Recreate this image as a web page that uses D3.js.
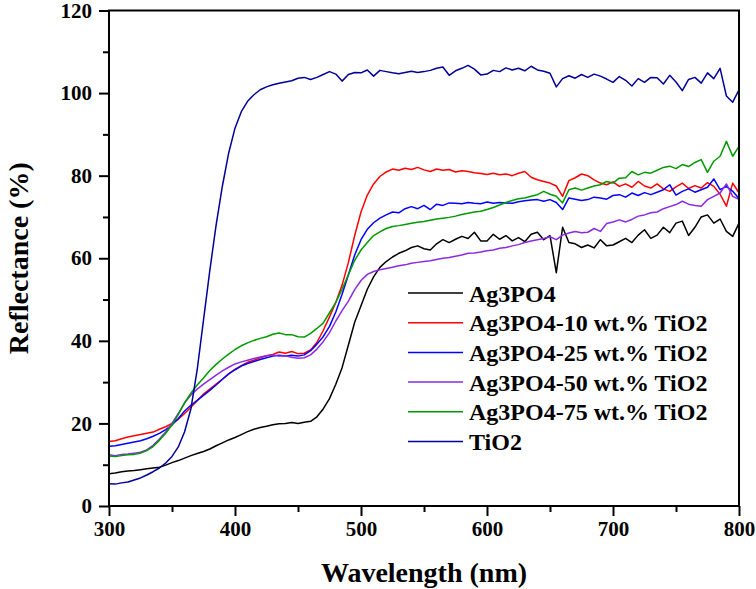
<!DOCTYPE html>
<html>
<head>
<meta charset="utf-8">
<script src="https://cdn.jsdelivr.net/npm/d3@7"></script>
<style>
  body { margin: 0; background: #fff; }
  svg text { font-family: "Liberation Serif", "Times New Roman", serif; font-weight: bold; }
</style>
</head>
<body>
<div id="chart"></div>
<script>
// wavelength grid, 5 nm steps
var wavelengths = d3.range(300, 801, 5);

var ag3po4 = [7.8, 8.0, 8.3, 8.5, 8.6, 8.8, 9.0, 9.2, 9.4, 9.9, 10.5, 11.0, 11.6, 12.2, 12.7, 13.2, 13.8, 14.6, 15.3, 16.0,
  16.6, 17.3, 18.0, 18.6, 19.0, 19.3, 19.7, 19.9, 20.0, 20.2, 20.0, 20.3, 20.5, 21.6, 23.5, 26.0, 29.5, 33.5, 39.0, 44.5,
  48.5, 52.5, 55.5, 57.8, 59.2, 60.3, 61.2, 61.8, 62.6, 63.0, 62.3, 62.0, 63.5, 64.5, 63.8, 64.6, 65.3, 64.8, 66.3, 64.2,
  64.2, 65.8, 64.6, 65.5, 64.2, 65.0, 64.0, 65.8, 66.3, 64.5, 65.5, 56.5, 67.5, 63.8, 63.5, 62.6, 63.2, 62.5, 64.5, 63.0,
  63.2, 64.0, 64.8, 63.8, 65.6, 66.9, 64.8, 65.6, 67.5, 66.2, 68.5, 69.0, 65.5, 67.5, 70.0, 70.5, 68.5, 69.5, 66.5, 65.3, 68.5];

var tio2_10 = [15.6, 15.8, 16.3, 16.7, 17.0, 17.3, 17.6, 17.9, 18.6, 19.2, 20.0, 21.0, 22.4, 23.9, 25.5, 27.1, 28.3, 29.5, 30.7, 32.0,
  33.1, 34.0, 34.8, 35.3, 35.9, 36.4, 36.7, 37.3, 37.0, 37.4, 36.9, 37.0, 37.8, 39.6, 42.5, 45.8, 49.3, 53.5, 59.0, 65.5,
  71.2, 75.3, 78.0, 79.8, 80.9, 81.6, 81.3, 81.8, 81.5, 82.0, 81.4, 81.0, 81.6, 81.3, 81.5, 80.9, 81.2, 81.0, 80.7, 80.5,
  80.3, 80.6, 80.2, 80.4, 80.0, 80.6, 81.0, 79.6, 79.0, 78.6, 78.2, 77.5, 75.0, 78.8, 79.5, 80.4, 80.0, 79.0, 78.2, 77.8,
  78.5, 77.4, 78.0, 77.2, 78.6, 77.5, 77.0, 78.0, 76.8, 76.2, 77.3, 78.2, 76.9, 77.6, 77.0, 78.3, 77.4, 75.5, 72.6, 78.2, 75.8];

var tio2_25 = [14.5, 14.6, 14.9, 15.2, 15.5, 15.8, 16.3, 16.9, 17.6, 18.5, 19.6, 21.2, 23.0, 24.4, 25.6, 26.8, 28.0, 29.3, 30.7, 32.0,
  33.0, 33.9, 34.5, 35.0, 35.5, 35.9, 36.3, 36.5, 36.3, 36.5, 36.3, 36.6, 37.6, 39.2, 41.0, 43.5, 47.0, 51.3, 56.0, 60.8,
  64.5, 67.0, 68.6, 69.7, 70.5, 71.2, 71.0, 72.0, 72.5, 72.0, 72.8, 71.8, 73.1, 72.8, 73.4, 73.3, 73.2, 73.5, 73.3, 73.2,
  73.6, 73.3, 73.5, 73.4, 73.3, 73.7, 73.9, 74.1, 74.2, 73.8, 74.2, 73.5, 71.8, 74.6, 74.3, 74.0, 74.2, 74.8, 74.6, 74.3,
  75.2, 75.4, 74.8, 75.8, 75.2, 75.9, 75.4, 76.0, 76.6, 77.8, 75.3, 76.2, 76.8, 76.0, 76.6, 77.2, 79.2, 76.6, 77.4, 76.2, 74.5];

var tio2_50 = [12.4, 12.2, 12.5, 12.6, 12.8, 13.0, 13.6, 14.7, 16.2, 17.9, 20.0, 22.4, 25.0, 26.9, 28.3, 29.5, 30.6, 31.7, 32.7, 33.6,
  34.4, 34.9, 35.3, 35.7, 36.1, 36.4, 36.6, 36.3, 36.4, 36.0, 35.8, 35.9, 36.6, 38.0, 39.8, 42.0, 44.8, 47.3, 49.6, 52.4,
  54.6, 56.1, 56.8, 57.2, 57.5, 57.8, 58.2, 58.4, 58.8, 59.0, 59.2, 59.4, 59.7, 60.0, 60.2, 60.5, 60.8, 61.2, 61.3, 61.5,
  61.8, 62.0, 62.4, 62.6, 63.0, 63.3, 63.8, 64.2, 64.5, 64.8, 65.2, 64.5, 65.6, 66.1, 66.5, 66.2, 66.3, 67.2, 66.5, 68.4,
  68.8, 69.3, 68.8, 69.4, 70.2, 70.5, 71.0, 71.2, 72.0, 72.5, 73.0, 73.8, 73.1, 72.8, 72.6, 74.2, 75.0, 75.8, 78.0, 75.0, 74.3];

var tio2_75 = [12.1, 12.0, 12.2, 12.4, 12.5, 12.8, 13.4, 14.4, 15.9, 17.6, 19.6, 22.2, 25.0, 27.3, 29.3, 31.0, 32.8, 34.3, 35.6, 36.8,
  37.9, 38.8, 39.5, 40.1, 40.6, 41.0, 41.6, 41.9, 41.5, 41.5, 41.0, 40.9, 41.8, 43.0, 44.3, 46.8, 49.3, 52.5, 56.0, 59.5,
  62.0, 63.8, 65.5, 66.4, 67.2, 67.7, 67.9, 68.2, 68.5, 68.7, 68.9, 69.2, 69.5, 69.7, 69.9, 70.2, 70.6, 70.9, 71.2, 71.4,
  71.8, 72.3, 72.9, 73.5, 74.0, 74.4, 74.6, 75.0, 75.4, 76.2, 75.5, 75.0, 73.4, 76.6, 77.0, 76.5, 77.0, 77.5, 77.8, 78.6,
  78.2, 79.4, 79.5, 81.0, 80.2, 80.8, 80.6, 81.3, 82.0, 82.3, 81.7, 82.7, 82.2, 83.2, 83.9, 80.8, 83.5, 84.7, 88.3, 84.7, 87.1];

var tio2 = [5.4, 5.3, 5.6, 5.8, 6.3, 6.8, 7.5, 8.3, 9.2, 10.4, 12.0, 14.3, 18.0, 23.5, 33.0, 45.0, 57.0, 68.0, 77.5, 85.5,
  91.5, 95.5, 98.0, 99.6, 100.8, 101.5, 102.0, 102.4, 102.7, 103.0, 103.6, 103.8, 103.3, 103.8, 104.5, 105.2, 104.6, 102.9, 104.5, 105.0,
  104.9, 105.6, 104.1, 105.5, 105.2, 104.9, 104.7, 105.0, 105.3, 105.0, 105.2, 105.5, 106.0, 106.3, 104.3, 105.4, 106.0, 106.7, 105.8, 104.4,
  104.6, 105.5, 105.2, 106.1, 105.6, 106.0, 105.4, 106.5, 105.6, 105.3, 104.8, 101.5, 103.5, 104.2, 103.6, 104.5, 103.8, 104.6, 104.1, 103.4,
  102.6, 104.0, 103.1, 101.7, 103.5, 102.6, 103.8, 103.7, 102.2, 104.3, 102.7, 100.6, 103.3, 103.8, 102.4, 104.9, 103.5, 106.0, 99.3, 97.8, 100.8];

var seriesNames = ["Ag3PO4", "Ag3PO4-10 wt.% TiO2", "Ag3PO4-25 wt.% TiO2", "Ag3PO4-50 wt.% TiO2", "Ag3PO4-75 wt.% TiO2", "TiO2"];
var seriesValues = [ag3po4, tio2_10, tio2_25, tio2_50, tio2_75, tio2];
var seriesColors = ["#000000", "#ff0000", "#0000ff", "#8a2be2", "#009a00", "#000099"];

var xTicks = [300, 400, 500, 600, 700, 800];
var yTicks = [0, 20, 40, 60, 80, 100, 120];

var svgWidth = 756;
var svgHeight = 589;
var margin = { top: 10.5, right: 17, bottom: 83, left: 109 };
var width = svgWidth - margin.left - margin.right;
var height = svgHeight - margin.top - margin.bottom;

var svg = d3.select("#chart")
  .append("svg")
  .attr("width", svgWidth)
  .attr("height", svgHeight);

var chartGroup = svg.append("g")
  .attr("transform", `translate(${margin.left}, ${margin.top})`);

var xScale = d3.scaleLinear().domain([300, 800]).range([0, width]);
var yScale = d3.scaleLinear().domain([0, 120]).range([height, 0]);

// minor ticks first (short), then major ticks with labels
var xMinor = d3.axisBottom(xScale).tickValues(d3.range(350, 800, 100)).tickSize(6).tickFormat("");
var yMinor = d3.axisLeft(yScale).tickValues(d3.range(10, 120, 20)).tickSize(6).tickFormat("");
var xAxis = d3.axisBottom(xScale).tickValues(xTicks).tickSize(10).tickPadding(5).tickFormat(d3.format("d"));
var yAxis = d3.axisLeft(yScale).tickValues(yTicks).tickSize(10).tickPadding(7).tickFormat(d3.format("d"));

function styleAxis(g) {
  g.select(".domain").remove();
  g.selectAll("line").attr("stroke", "#000").attr("stroke-width", 2);
  g.selectAll("text").attr("font-size", 21).attr("fill", "#000");
}

chartGroup.append("g").attr("transform", `translate(0, ${height})`).call(xMinor).call(styleAxis);
chartGroup.append("g").call(yMinor).call(styleAxis);
chartGroup.append("g").attr("transform", `translate(0, ${height})`).call(xAxis).call(styleAxis);
chartGroup.append("g").call(yAxis).call(styleAxis);

// clip lines to the plot frame
chartGroup.append("clipPath").attr("id", "plot-clip")
  .append("rect").attr("width", width).attr("height", height);

var line = d3.line()
  .x((d, i) => xScale(wavelengths[i]))
  .y(d => yScale(d));

var linesGroup = chartGroup.append("g").attr("clip-path", "url(#plot-clip)");
seriesValues.forEach((vals, i) => {
  linesGroup.append("path")
    .datum(vals)
    .attr("fill", "none")
    .attr("stroke", seriesColors[i])
    .attr("stroke-width", 1.5)
    .attr("stroke-linejoin", "round")
    .attr("d", line);
});

// frame
chartGroup.append("rect")
  .attr("width", width)
  .attr("height", height)
  .attr("fill", "none")
  .attr("stroke", "#000")
  .attr("stroke-width", 2);

// legend
var legend = chartGroup.append("g")
  .attr("transform", `translate(${408 - margin.left}, ${293 - margin.top})`);
seriesNames.forEach((name, i) => {
  var row = legend.append("g").attr("transform", `translate(0, ${i * 29.7})`);
  row.append("line")
    .attr("x1", 0).attr("x2", 55)
    .attr("stroke", seriesColors[i])
    .attr("stroke-width", 1.5);
  row.append("text")
    .attr("x", 61)
    .attr("y", 8.5)
    .attr("font-size", 24)
    .text(name);
});

// axis titles
svg.append("text")
  .attr("x", margin.left + width / 2)
  .attr("y", 582)
  .attr("text-anchor", "middle")
  .attr("font-size", 28)
  .text("Wavelength (nm)");

svg.append("text")
  .attr("transform", `translate(28, ${margin.top + height / 2}) rotate(-90)`)
  .attr("text-anchor", "middle")
  .attr("font-size", 28)
  .text("Reflectance (%)");
</script>
</body>
</html>
